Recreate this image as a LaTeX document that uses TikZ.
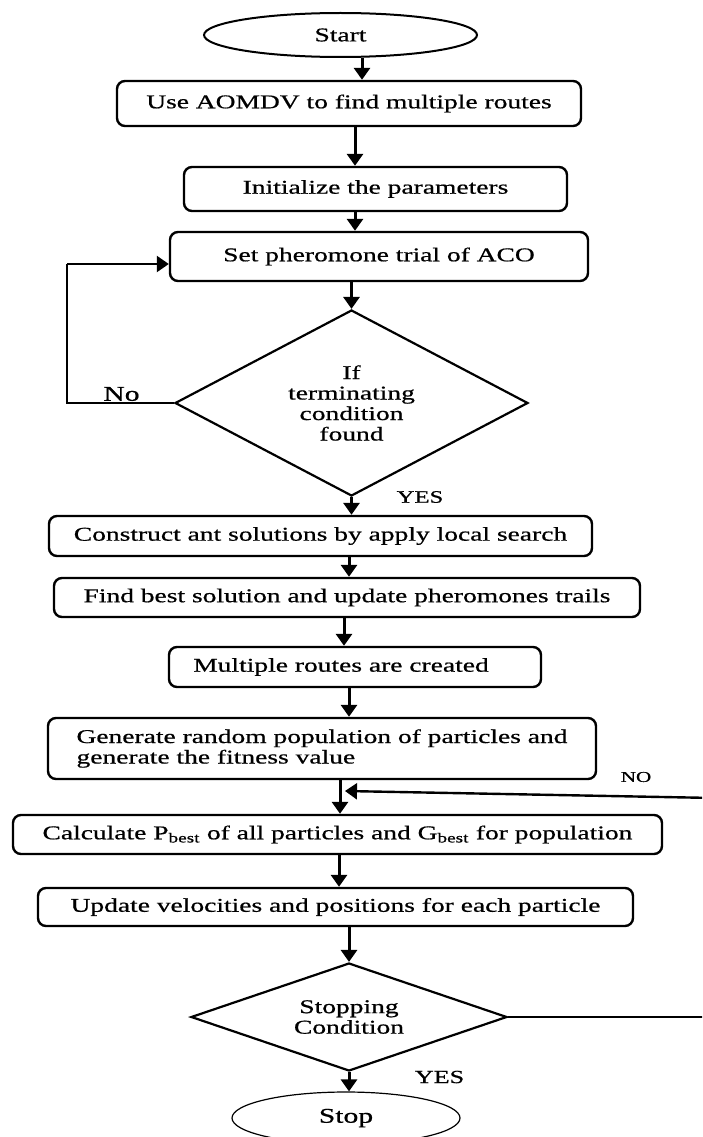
\documentclass[tikz,border=0pt]{standalone}
\usepackage{fontspec}
\setmainfont{Liberation Serif}[FakeStretch=1.41,FakeBold=0.7]
\usetikzlibrary{shapes.geometric,arrows.meta}
\newcommand\myfs[1]{\fontsize{#1}{20.5}\selectfont}
\begin{document}
\begin{tikzpicture}[x=1pt,y=-1pt,
  every node/.style={font=\myfs{19.5}},
  box/.style={draw, line width=2.4pt, rounded corners=8pt, inner sep=0pt},
  term/.style={draw, ellipse, inner sep=0pt},
  dec/.style={draw, diamond, line width=2.2pt, inner sep=0pt, shape aspect=1.9, align=center},
  arr/.style={line width=3pt, -{Triangle[width=16pt,length=12pt]}},
  thinln/.style={line width=1.2pt},
  lbl/.style={inner sep=0pt}]
\useasboundingbox (0,0) rectangle (702,1137);
\clip (0,0) rectangle (702,1137);

% nodes
\node[term, line width=2pt, minimum width=273pt, minimum height=44pt] (start) at (340.5,35) {Start};
\node[box, minimum width=464pt, minimum height=45pt] (b1) at (349,103.5) {Use AOMDV to find multiple routes};
\node[box, minimum width=383pt, minimum height=44pt] (b2) at (375.5,189) {Initialize the parameters};
\node[box, minimum width=418pt, minimum height=49pt] (b3) at (379,256.5) {Set pheromone trial of ACO};
\node[dec, minimum width=353pt, minimum height=186pt] (d1) at (351.5,403) {If\\terminating\\condition\\found};
\node[box, minimum width=543pt, minimum height=40pt] (b4) at (320.5,536) {Construct ant solutions by apply local search};
\node[box, minimum width=586pt, minimum height=39pt] (b5) at (347,597.5) {Find best solution and update pheromones trails};
\node[box, minimum width=372pt, minimum height=40pt] (b6) at (355,667) {\hspace*{-28pt}Multiple routes are created};
\node[box, minimum width=548pt, minimum height=61pt, align=left] (b7) at (322,748.5) {Generate random population of particles and\\generate the fitness value};
\node[box, minimum width=649pt, minimum height=39pt] (b8) at (337.5,834.5) {Calculate P\textsubscript{best} of all particles and G\textsubscript{best} for population};
\node[box, minimum width=595pt, minimum height=38pt] (b9) at (335.5,907) {Update velocities and positions for each particle};
\node[dec, minimum width=316pt, minimum height=108pt] (d2) at (349,1017) {Stopping\\Condition};
\node[term, line width=1.2pt, minimum width=228pt, minimum height=52pt, font=\myfs{21}] (stop) at (346,1118) {Stop};

% labels
\node[lbl, font=\myfs{21}] (no1) at (121.5,394) {No};
\node[lbl, font=\myfs{17.5}] (yes1) at (420,497) {YES};
\node[lbl, font=\myfs{15}] (no2) at (636,777) {NO};
\node[lbl, font=\myfs{18.5}] (yes2) at (439.5,1077) {YES};

% arrow x positions
\coordinate (ax1) at (362,0);
\coordinate (ax2) at (355,0);
\coordinate (ax6) at (349,0);
\coordinate (ax7) at (344,0);
\coordinate (ax9) at (340,0);
\coordinate (ax10) at (339,0);

% main flow
\draw[arr] (start.south -| ax1) -- (b1.north -| ax1);
\draw[arr] (b1.south -| ax2) -- (b2.north -| ax2);
\draw[arr] (b2.south -| ax2) -- (b3.north -| ax2);
\draw[arr] (b3.south -| d1.north) -- (d1.north);
\draw[arr] (d1.south) -- (b4.north -| d1.south);
\draw[arr] (b4.south -| ax6) -- (b5.north -| ax6);
\draw[arr] (b5.south -| ax7) -- (b6.north -| ax7);
\draw[arr] (b6.south -| ax6) -- (b7.north -| ax6);
\draw[arr] (b7.south -| ax9) -- (b8.north -| ax9);
\draw[arr] (b8.south -| ax10) -- (b9.north -| ax10);
\draw[arr] (b9.south -| d2.north) -- (d2.north);
\draw[arr] (d2.south) -- (stop.north -| d2.south);

% No loop (top)
\coordinate (lp) at (67,264);
\draw[thinln] (d1.west) -| (lp);
\draw[arr, line width=2.4pt] (lp) -- (b3.west |- lp);

% NO loop (bottom)
\coordinate (rr) at (715,798);
\coordinate (mm) at (345,791);
\draw[thinln] (d2.east) -| (rr);
\draw[arr, line width=2.4pt] (rr) -- (mm);
\end{tikzpicture}
\end{document}
